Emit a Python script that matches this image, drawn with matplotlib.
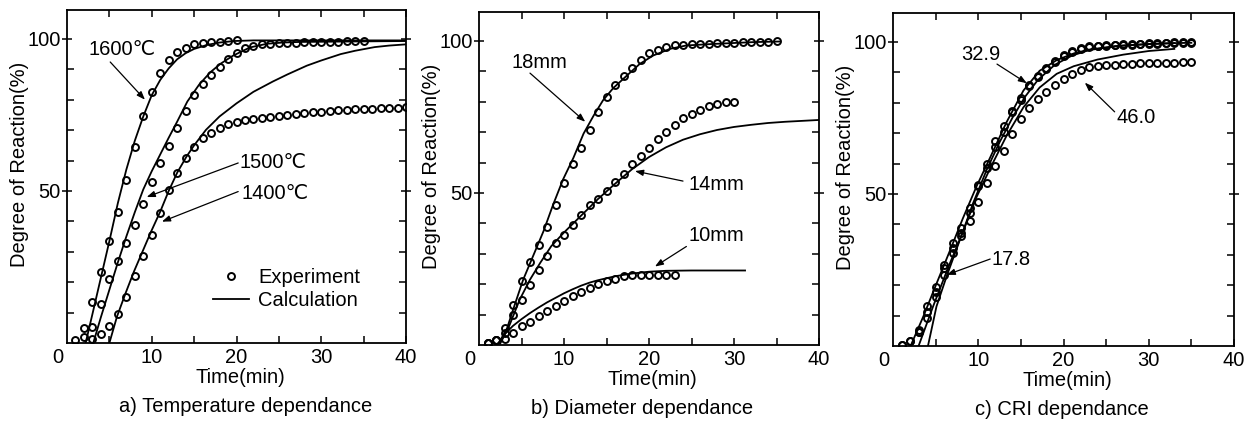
import numpy as np
import matplotlib
matplotlib.use("Agg")
import matplotlib.pyplot as plt
from matplotlib.lines import Line2D
from matplotlib.transforms import offset_copy

plt.rcParams['font.family'] = ['Liberation Sans', 'DejaVu Sans']
plt.rcParams['font.size'] = 14

# ---- a) temperature dependance ----
t_1600 = np.arange(1, 21)
e_1600 = [1.0, 5.0, 13.5, 23.5, 33.5, 43.0, 53.6, 64.6, 74.8, 82.7, 88.9, 93.2,
          95.6, 97.1, 98.2, 98.7, 98.9, 99.1, 99.3, 99.6]
t_1500 = np.arange(2, 36)
e_1500 = [2.1, 5.4, 12.8, 20.9, 27.1, 32.8, 38.8, 45.7, 53.1, 59.1, 64.8, 70.6,
          76.3, 81.6, 85.2, 88.0, 90.8, 93.3, 95.4, 96.9, 97.8, 98.2, 98.4, 98.5,
          98.6, 98.8, 98.9, 99.0, 99.0, 99.1, 99.1, 99.2, 99.2, 99.3]
t_1400 = np.arange(3, 41)
e_1400 = [1.2, 2.9, 5.7, 9.4, 15.0, 22.0, 28.7, 35.5, 42.9, 50.3, 56.0, 60.8,
          64.6, 67.5, 69.1, 70.8, 71.9, 72.6, 73.3, 73.7, 74.0, 74.3, 74.6, 74.9,
          75.3, 75.6, 75.9, 76.1, 76.4, 76.6, 76.7, 76.8, 76.9, 77.1, 77.2, 77.3,
          77.4, 77.6]

c1600_t = [2.2, 3, 4, 5, 6, 7, 8, 9, 10, 11, 12, 13, 14, 15, 16.5, 18, 19.7, 22, 40]
c1600_y = [0, 9.5, 21.5, 33.5, 46, 57, 66.5, 74.5, 81.5, 86.5, 90.3, 93.3, 95.3,
           96.7, 98.0, 98.8, 99.3, 99.5, 99.5]
c1500_t = [3.1, 4, 5, 6, 7, 8, 9, 10, 11, 12, 13, 14.2, 15.6, 16.9, 18.1, 19.6,
           21.6, 23.6, 25.5, 27.5, 40]
c1500_y = [0, 8.5, 17.5, 26.5, 35, 43, 50.5, 56.5, 62, 67.5, 72.8, 79.4, 85.0,
           89.0, 91.8, 94.5, 97.2, 98.4, 98.8, 99.0, 99.3]
c1400_t = [5.0, 5.9, 6.9, 7.9, 8.9, 9.9, 11, 12, 13, 14.1, 15, 16.4, 18, 20, 22,
           24.3, 26, 28.3, 30, 32.3, 34, 36.3, 38, 40]
c1400_y = [0, 8.7, 16.3, 23.5, 30, 36.5, 43.2, 50, 56, 61.3, 65, 70.1, 74.5, 78.8,
           82.6, 86, 88.3, 91.2, 92.9, 95, 96.1, 97.3, 97.8, 98.2]

# ---- b) diameter dependance ----
t_18 = np.arange(1, 36)
e_18 = [0.5, 1.8, 5.5, 13.2, 20.9, 27.2, 33.0, 38.8, 45.9, 53.4, 59.4, 64.9, 70.6,
        76.5, 81.7, 85.5, 88.6, 91.0, 93.7, 96.0, 97.1, 97.9, 98.5, 98.7, 98.9,
        99.0, 99.1, 99.2, 99.3, 99.4, 99.5, 99.6, 99.7, 99.7, 99.8]
t_14 = np.arange(1, 31)
e_14 = [0.5, 1.8, 4.0, 9.9, 14.9, 19.8, 24.8, 29.4, 33.6, 36.3, 39.6, 42.6, 45.9,
        47.9, 50.6, 53.6, 56.1, 59.4, 62.2, 64.9, 67.7, 70.2, 72.3, 74.8, 75.9,
        77.2, 78.7, 79.4, 80.0, 80.0]
t_10 = np.arange(1, 24)
e_10 = [0.5, 1.8, 1.9, 3.9, 6.1, 7.7, 9.6, 11.3, 12.9, 14.5, 16.0, 17.3, 18.7,
        20.0, 20.9, 21.7, 22.6, 23.1, 23.1, 23.1, 23.1, 23.1, 23.1]

c18_t = [2.3, 3.3, 4.2, 5.2, 6.4, 7.6, 8.7, 9.9, 11.1, 12.3, 13.5, 14.6, 15.8,
         17.4, 18.9, 20.5, 22.5, 24.4, 27.6, 32.3, 35.4]
c18_y = [0.5, 5.5, 13.2, 21.5, 29.5, 37.5, 46, 54.5, 61.5, 69.5, 75.5, 80.5, 84.5,
         88.6, 92.4, 95.2, 97.4, 98.5, 99.0, 99.6, 99.8]
c14_t = [2.5, 3.6, 4.8, 6, 7.2, 8.5, 10, 12, 14, 16, 18, 20, 22, 24, 26, 28, 30,
         32, 34, 36, 38, 40]
c14_y = [0.5, 6.6, 15, 21.5, 27, 32.5, 37, 42.5, 48, 53, 57.8, 61.8, 65, 67.5,
         69.3, 70.7, 71.7, 72.4, 73, 73.4, 73.7, 74]
c10_t = [2.4, 3, 4, 5, 6, 7, 8, 9, 10, 11, 12, 13, 14, 16, 18, 20, 22, 25, 31.3]
c10_y = [0.5, 3.5, 6.3, 8.5, 10.5, 12.3, 14, 15.5, 17, 18.3, 19.5, 20.5, 21.3,
         22.6, 23.5, 24.1, 24.4, 24.5, 24.5]

# ---- c) CRI dependance ----
t_329 = np.arange(1, 36)
e_329 = [0.3, 1.8, 5.3, 13.0, 19.4, 26.7, 33.9, 38.8, 45.4, 53.1, 59.7, 67.4,
         72.4, 77.3, 81.7, 85.8, 88.9, 91.4, 93.8, 95.7, 97.1, 97.9, 98.5, 98.8,
         99.0, 99.1, 99.2, 99.3, 99.4, 99.5, 99.6, 99.7, 99.8, 99.8, 99.9]
t_178 = np.arange(3, 36)
e_178 = [4.7, 11.3, 17.9, 25.6, 32.2, 37.2, 43.8, 52.5, 58.5, 65.5, 70.5, 77.0,
         81.0, 85.5, 88.5, 91.0, 93.5, 95.5, 96.8, 97.6, 98.2, 98.5, 98.7, 98.9,
         99.0, 99.1, 99.2, 99.3, 99.4, 99.5, 99.6, 99.6, 99.7]
t_460 = np.arange(1, 36)
e_460 = [0.3, 1.8, 4.7, 9.1, 16.1, 23.4, 30.6, 36.1, 41.0, 47.4, 53.7, 59.2,
         64.1, 69.6, 74.6, 78.4, 81.2, 83.4, 85.8, 87.8, 89.4, 90.9, 91.6, 92.0,
         92.3, 92.5, 92.7, 92.8, 92.9, 93.0, 93.1, 93.2, 93.2, 93.3, 93.3]

c329_t = [2.2, 3.6, 5.1, 6.7, 8.2, 9.8, 11.4, 13.3, 15.3, 17.2, 19.2, 21.2, 23.1,
          27, 30.1, 33, 35]
c329_y = [0.9, 10, 20.5, 31.5, 42, 52.5, 62, 73.5, 84, 90.5, 94, 96.2, 97.5,
          98.8, 99.3, 99.6, 99.7]
c460_t = [3.0, 4.7, 6.5, 8.2, 9.8, 11.5, 13.3, 15.3, 17.2, 19.2, 21.2, 24, 27, 30, 33]
c460_y = [0, 13, 26, 37.5, 49, 59, 69, 78.5, 85, 89.5, 92, 94.2, 95.8, 97, 97.7]
c178_t = [4.1, 5.1, 6.3, 7.6, 9.4, 11, 12.5, 14, 15.5, 17, 19, 21, 23, 26, 30, 33]
c178_y = [0, 13, 23, 33, 47, 58, 67, 75, 82, 87.5, 92.5, 95.5, 97.3, 98.6, 99.3, 99.6]

W, H = 1251, 423
fig = plt.figure(figsize=(W / 100, H / 100), dpi=100)
boxes = [(67, 10, 406, 343), (479, 12, 819, 345), (893, 13, 1234, 346)]
titles = ["a) Temperature dependance", "b) Diameter dependance", "c) CRI dependance"]
title_x = [0.528, 0.479, 0.495]

mk = dict(ls="none", marker="o", ms=5, mfc="none", mec="k", mew=1.4)
ln = dict(color="k", lw=1.3)
arr = dict(arrowstyle="-|>,head_length=0.35,head_width=0.13", lw=0.9, color="k",
           shrinkA=0, shrinkB=0)

axes = []
for (l, t, r, b), ttl, tx in zip(boxes, titles, title_x):
    ax = fig.add_axes([l / W, 1 - b / H, (r - l) / W, (b - t) / H])
    ax.set_xlim(0, 40)
    ax.set_ylim(0, 109.5)
    ax.set_xticks([10, 20, 30, 40])
    ax.set_xticks([5, 15, 25, 35], minor=True)
    ax.set_yticks([50, 100])
    ax.set_yticks([10, 20, 30, 40, 60, 70, 80, 90], minor=True)
    ax.tick_params(which="both", direction="in", top=True, right=True,
                   length=5, width=1.1, labelsize=14.5)
    ax.tick_params(axis="y", which="major", direction="inout", length=7, pad=1)
    for s in ax.spines.values():
        s.set_linewidth(1.3)
    ax.text(0, 0, "0", transform=offset_copy(ax.get_xaxis_transform(), fig=fig,
            x=-9, y=-5, units="dots"), ha="center", va="top", fontsize=14.5)
    ax.set_xlabel("Time(min)", fontsize=14.5)
    ax.xaxis.set_label_coords(0.51, -0.076)
    ax.set_ylabel("Degree of Reaction(%)", fontsize=14.5)
    ax.yaxis.set_label_coords(-0.112, 0.535)
    ax.text(tx, -0.192, ttl, transform=ax.transAxes, ha="center", va="center",
            fontsize=14.5)
    axes.append(ax)

ax1, ax2, ax3 = axes

# a)
ax1.plot(t_1600, e_1600, **mk)
ax1.plot(t_1500, e_1500, **mk)
ax1.plot(t_1400, e_1400, **mk)
ax1.plot(c1600_t, c1600_y, **ln)
ax1.plot(c1500_t, c1500_y, **ln)
ax1.plot(c1400_t, c1400_y, **ln)
ax1.text(2.5, 96.4, "1600℃", va="center", ha="left", fontsize=14.5)
ax1.annotate("", xy=(9.2, 80), xytext=(5.1, 92.4), arrowprops=arr)
ax1.text(20.4, 59.2, "1500℃", va="center", ha="left", fontsize=14.5)
ax1.annotate("", xy=(9.4, 48.0), xytext=(20.2, 59.2), arrowprops=arr)
ax1.text(20.6, 49.3, "1400℃", va="center", ha="left", fontsize=14.5)
ax1.annotate("", xy=(11.2, 39.9), xytext=(20.2, 49.8), arrowprops=arr)
handles = [Line2D([], [], **mk), Line2D([], [], **ln)]
ax1.legend(handles, ["Experiment", "Calculation"], loc="upper left",
           bbox_to_anchor=(0.431, 0.225), frameon=False, borderpad=0,
           borderaxespad=0, handlelength=1.8, handletextpad=0.45,
           labelspacing=0.2, fontsize=14.5)

# b)
ax2.plot(t_18, e_18, **mk)
ax2.plot(t_14, e_14, **mk)
ax2.plot(t_10, e_10, **mk)
ax2.plot(c18_t, c18_y, **ln)
ax2.plot(c14_t, c14_y, **ln)
ax2.plot(c10_t, c10_y, **ln)
ax2.text(3.85, 93.0, "18mm", va="center", ha="left", fontsize=14.5)
ax2.annotate("", xy=(12.5, 73.4), xytext=(6.0, 89.4), arrowprops=arr)
ax2.text(24.6, 52.8, "14mm", va="center", ha="left", fontsize=14.5)
ax2.annotate("", xy=(18.35, 57.2), xytext=(24.0, 53.9), arrowprops=arr)
ax2.text(24.6, 36.0, "10mm", va="center", ha="left", fontsize=14.5)
ax2.annotate("", xy=(20.7, 25.8), xytext=(24.4, 32.4), arrowprops=arr)

# c)
ax3.plot(t_329, e_329, **mk)
ax3.plot(t_178, e_178, **mk)
ax3.plot(t_460, e_460, **mk)
ax3.plot(c329_t, c329_y, **ln)
ax3.plot(c460_t, c460_y, **ln)
ax3.plot(c178_t, c178_y, **ln)
ax3.text(8.05, 96.0, "32.9", va="center", ha="left", fontsize=14.5)
ax3.annotate("", xy=(15.7, 86.4), xytext=(12.2, 92.7), arrowprops=arr)
ax3.text(26.2, 75.1, "46.0", va="center", ha="left", fontsize=14.5)
ax3.annotate("", xy=(22.5, 86.6), xytext=(26.0, 77.0), arrowprops=arr)
ax3.text(11.6, 28.6, "17.8", va="center", ha="left", fontsize=14.5)
ax3.annotate("", xy=(6.3, 23.4), xytext=(11.4, 28.6), arrowprops=arr)

fig.savefig("out.png", dpi=100)
